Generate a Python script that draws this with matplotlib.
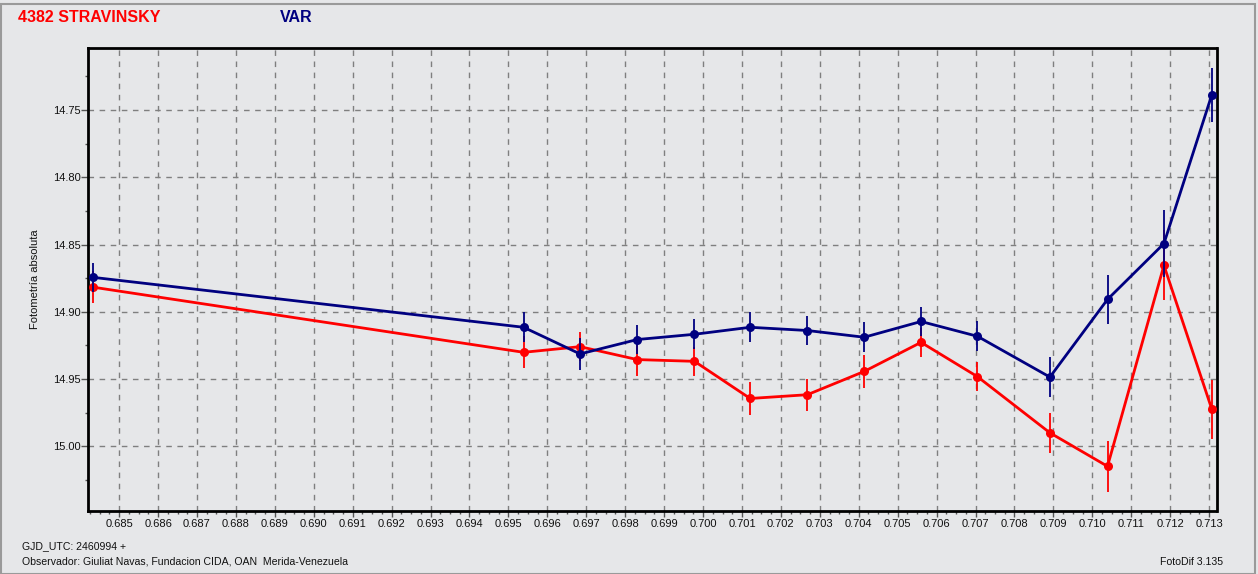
import matplotlib
matplotlib.use("Agg")
import matplotlib.pyplot as plt
import numpy as np
from matplotlib.ticker import MultipleLocator, FormatStrFormatter
from matplotlib.patches import Rectangle

# ---- data ----
jd_frac = [0.68433, 0.69539, 0.69684, 0.69831, 0.69978, 0.70121, 0.70268,
           0.70414, 0.70560, 0.70705, 0.70891, 0.71039, 0.71184, 0.71307]
var_mag = [14.8744, 14.9115, 14.9313, 14.9206, 14.9167, 14.9115, 14.9139,
           14.9189, 14.9072, 14.9182, 14.9485, 14.8908, 14.8493, 14.7387]
var_err = [0.011, 0.011, 0.012, 0.011, 0.011, 0.011, 0.011,
           0.011, 0.011, 0.011, 0.015, 0.018, 0.025, 0.020]
ast_mag = [14.8817, 14.9301, 14.9259, 14.9355, 14.9368, 14.9644, 14.9616,
           14.9443, 14.9227, 14.9482, 14.9899, 15.0148, 14.8655, 14.9724]
ast_err = [0.012, 0.012, 0.011, 0.012, 0.011, 0.012, 0.012,
           0.012, 0.011, 0.011, 0.015, 0.019, 0.026, 0.022]

ast_name = "4382 STRAVINSKY"
var_name = "VAR"
ylabel = "Fotometría absoluta"
foot1 = "GJD_UTC: 2460994 +"
foot2 = "Observador: Giuliat Navas, Fundacion CIDA, OAN  Merida-Venezuela"
foot3 = "FotoDif 3.135"

BG = "#E6E7E9"
RED = "#FF0000"
NAVY = "#000080"

plt.rcParams['font.family'] = ['Liberation Sans', 'DejaVu Sans']

W, H = 1258, 574
AX_L, AX_R, AX_T, AX_B = 88, 1216.5, 48, 511
fig = plt.figure(figsize=(W / 100, H / 100), dpi=100, facecolor=BG)
ax = fig.add_axes([AX_L / W, 1 - AX_B / H, (AX_R - AX_L) / W, (AX_B - AX_T) / H])
ax.set_facecolor(BG)

# frame around window
fig.patches.append(Rectangle((0.5 / W, 0.5 / H), 1 - 4 / W, 1 - 4 / H,
                             transform=fig.transFigure, fill=False,
                             edgecolor="#9A9A9A", linewidth=1.5))

ax.errorbar(jd_frac, ast_mag, yerr=ast_err, color=RED, linewidth=2,
            elinewidth=1.3, capsize=0, marker='o', markersize=6.5,
            markeredgewidth=0, zorder=3)
ax.errorbar(jd_frac, var_mag, yerr=var_err, color=NAVY, linewidth=2,
            elinewidth=1.3, capsize=0, marker='o', markersize=6.5,
            markeredgewidth=0, zorder=4)

ax.set_xlim(0.68420, 0.71319)
ax.set_ylim(15.048, 14.704)

ax.xaxis.set_major_locator(MultipleLocator(0.001))
ax.xaxis.set_minor_locator(MultipleLocator(0.00025))
ax.xaxis.set_major_formatter(FormatStrFormatter('%.3f'))
ax.yaxis.set_major_locator(MultipleLocator(0.05))
ax.yaxis.set_minor_locator(MultipleLocator(0.025))
ax.yaxis.set_major_formatter(FormatStrFormatter('%.2f'))

ax.tick_params(axis='both', which='major', width=1, color='#555555',
               labelsize=8, labelcolor='#111111')
ax.tick_params(axis='both', which='minor', length=2.5, width=1, color='#555555')
ax.tick_params(axis='x', which='major', length=4, pad=2)
ax.tick_params(axis='y', which='major', length=5, pad=0.5)

ax.grid(True, which='major', color='#7F7F7F', linestyle=(0, (4, 4)),
        linewidth=1)
ax.set_axisbelow(True)

for s in ax.spines.values():
    s.set_color('black')
    s.set_linewidth(2)

ax.set_ylabel(ylabel, fontsize=8, color='#111111')
ax.yaxis.set_label_coords((40 - AX_L) / (AX_R - AX_L), 0.5)

fig.text(18 / W, 1 - 18 / H, ast_name, color=RED, fontsize=11.5,
         fontweight='bold', ha='left', va='center')
fig.text(280 / W, 1 - 18 / H, var_name, color=NAVY, fontsize=11.5,
         fontweight='bold', ha='left', va='center')

fig.text(22 / W, 1 - 546 / H, foot1, fontsize=7.6, ha='left', va='center',
         color='#111111')
fig.text(22 / W, 1 - 562 / H, foot2, fontsize=7.6, ha='left', va='center',
         color='#111111')
fig.text(1223 / W, 1 - 562 / H, foot3, fontsize=7.6, ha='right', va='center',
         color='#111111')

fig.savefig("out.png", dpi=100, facecolor=BG)
